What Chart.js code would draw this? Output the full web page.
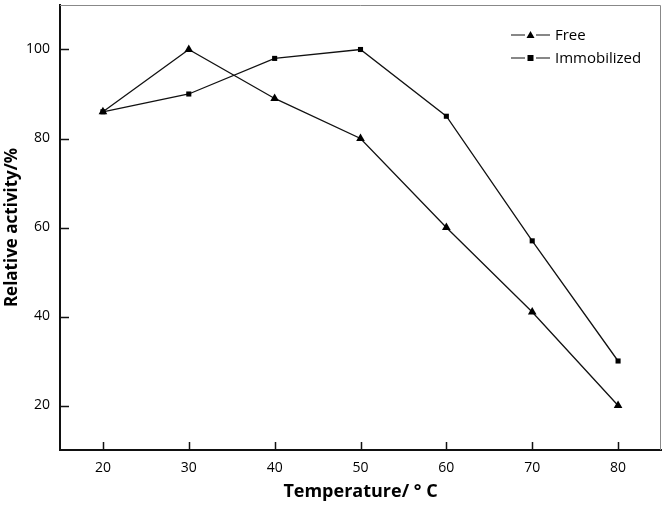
<!DOCTYPE html>
<html lang="en">
<head>
    <meta charset="UTF-8">
    <title>Relative activity vs temperature</title>
    <script src="https://cdn.jsdelivr.net/npm/chart.js"></script>
    <style>
        html, body {
            margin: 0;
            padding: 0;
            background: white;
        }
        .wrap {
            width: 666px;
            height: 505px;
        }
    </style>
</head>
<body>
    <div class="wrap"><canvas id="chart"></canvas></div>
    <script>
        let temperatures = [20, 30, 40, 50, 60, 70, 80];
        let freeActivity = [86, 100, 89, 80, 60, 41, 20];
        let immobilizedActivity = [86, 90, 98, 100, 85, 57, 30];
        let xTicks = [20, 30, 40, 50, 60, 70, 80];
        let yTicks = [20, 40, 60, 80, 100];

        let font = "'Open Sans', 'Liberation Sans', sans-serif";

        // inward ticks, thin grey frame on top/right, and the legend
        let decorations = {
            id: "decorations",
            afterDraw(chart) {
                let ctx = chart.ctx;
                let area = chart.chartArea;
                let x = chart.scales.x;
                let y = chart.scales.y;
                ctx.save();
                ctx.strokeStyle = "#888";
                ctx.lineWidth = 1;
                ctx.beginPath();
                ctx.moveTo(area.left, area.top + 0.5);
                ctx.lineTo(area.right - 0.5, area.top + 0.5);
                ctx.lineTo(area.right - 0.5, area.bottom);
                ctx.stroke();

                ctx.strokeStyle = "#111";
                ctx.lineWidth = 1.5;
                ctx.beginPath();
                xTicks.forEach(v => {
                    let px = Math.round(x.getPixelForValue(v)) + 0.5;
                    ctx.moveTo(px, area.bottom);
                    ctx.lineTo(px, area.bottom - 8);
                });
                yTicks.forEach(v => {
                    let py = Math.round(y.getPixelForValue(v)) + 0.5;
                    ctx.moveTo(area.left, py);
                    ctx.lineTo(area.left + 9, py);
                });
                ctx.stroke();

                // legend
                ctx.font = "15px " + font;
                ctx.textBaseline = "middle";
                ctx.fillStyle = "#000";
                chart.data.datasets.forEach((ds, i) => {
                    let ly = 35 + i * 23;
                    ctx.strokeStyle = "#111";
                    ctx.lineWidth = 1.2;
                    ctx.beginPath();
                    ctx.moveTo(511, ly);
                    ctx.lineTo(525, ly);
                    ctx.moveTo(536, ly);
                    ctx.lineTo(550, ly);
                    ctx.stroke();
                    ctx.beginPath();
                    if (ds.pointStyle === "triangle") {
                        ctx.moveTo(530.5, ly - 4);
                        ctx.lineTo(534.5, ly + 3);
                        ctx.lineTo(526.5, ly + 3);
                        ctx.closePath();
                    } else {
                        ctx.rect(527.5, ly - 3, 6, 6);
                    }
                    ctx.fill();
                    ctx.fillText(ds.label, 555, ly + 1);
                });
                ctx.restore();
            }
        };

        new Chart(document.getElementById("chart"), {
            type: "line",
            data: {
                datasets: [{
                    label: "Free",
                    data: temperatures.map((t, i) => ({ x: t, y: freeActivity[i] })),
                    borderColor: "#111",
                    backgroundColor: "#000",
                    borderWidth: 1.3,
                    pointStyle: "triangle",
                    pointRadius: 5,
                    pointBorderWidth: 0,
                    tension: 0
                }, {
                    label: "Immobilized",
                    data: temperatures.map((t, i) => ({ x: t, y: immobilizedActivity[i] })),
                    borderColor: "#111",
                    backgroundColor: "#000",
                    borderWidth: 1.3,
                    pointStyle: "rect",
                    pointRadius: 3.6,
                    pointBorderWidth: 0,
                    tension: 0
                }]
            },
            options: {
                responsive: true,
                maintainAspectRatio: false,
                animation: false,
                layout: { padding: { left: 0, top: 2, right: 3, bottom: 0 } },
                plugins: {
                    legend: { display: false },
                    tooltip: { enabled: false }
                },
                scales: {
                    x: {
                        type: "linear",
                        min: 15,
                        max: 85,
                        afterBuildTicks: s => { s.ticks = xTicks.map(v => ({ value: v })); },
                        afterFit: s => { s.height = 55; s.paddingLeft = 0; s.paddingRight = 0; },
                        grid: { display: false, drawTicks: false },
                        border: { display: true, color: "#111", width: 2 },
                        ticks: { color: "#000", padding: 10, font: { family: font, size: 14 } },
                        title: {
                            display: true,
                            text: "Temperature/ ° C",
                            color: "#000",
                            padding: { top: 4, bottom: 2 },
                            font: { family: font, size: 18, weight: "bold" }
                        }
                    },
                    y: {
                        min: 10,
                        max: 110,
                        afterBuildTicks: s => { s.ticks = yTicks.map(v => ({ value: v })); },
                        afterFit: s => { s.width = 60; s.paddingTop = 0; s.paddingBottom = 0; },
                        grid: { display: false, drawTicks: false },
                        border: { display: true, color: "#111", width: 2 },
                        ticks: { color: "#000", padding: 10, font: { family: font, size: 14 } },
                        title: {
                            display: true,
                            text: "Relative activity/%",
                            color: "#000",
                            padding: { top: 2, bottom: 0 },
                            font: { family: font, size: 17, weight: "bold" }
                        }
                    }
                }
            },
            plugins: [decorations]
        });
    </script>
</body>
</html>
